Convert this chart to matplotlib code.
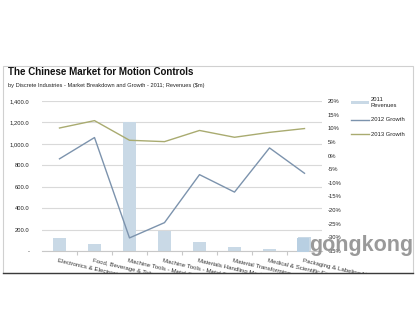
import matplotlib
matplotlib.use("Agg")
import matplotlib.pyplot as plt
from matplotlib.patches import Rectangle, Patch
from matplotlib.lines import Line2D
from matplotlib.ticker import FixedLocator, FuncFormatter

# Market breakdown by discrete industry
industries = [
    "Electronics & Electronic Assembly",
    "Food, Beverage & Tobacco",
    "Machine Tools - Metal Cutting",
    "Machine Tools - Metal Forming",
    "Materials Handling Machinery",
    "Material Transforming",
    "Medical & Scientific Equipment",
    "Packaging & Labeling Machinery",
]
revenue_2011 = [118, 65, 1200, 188, 86, 40, 21, 130]          # $m
growth_2012 = [-1.2, 6.6, -30.2, -24.6, -7.0, -13.4, 2.8, -6.5]  # %
growth_2013 = [10.1, 12.8, 5.6, 5.1, 9.2, 6.7, 8.5, 9.9]        # %

left_ticks = [0, 200, 400, 600, 800, 1000, 1200, 1400]
right_ticks = [20, 15, 10, 5, 0, -5, -10, -15, -20, -25, -30, -35]

bar_color = "#c9d9e6"
c2012 = "#7c93ad"
c2013 = "#a9ab70"
txt = "#222222"

plt.rcParams["font.family"] = ["Liberation Sans", "DejaVu Sans"]

fig = plt.figure(figsize=(4.15, 3.3), dpi=100)
ax = fig.add_axes([42 / 415, 1 - 251 / 330, 280 / 415, 150 / 330])
ax2 = ax.twinx()

x = list(range(len(industries)))
ax.bar(x, revenue_2011, width=0.38, color=bar_color, zorder=2)
ax.set_xlim(-0.5, len(industries) - 0.5)
ax.set_ylim(0, 1400)
ax.yaxis.set_major_locator(FixedLocator(left_ticks))
ax.yaxis.set_major_formatter(FuncFormatter(lambda v, p: "-" if v == 0 else f"{v:,.1f}"))
ax.grid(axis="y", color="#d9d9d9", linewidth=0.8, zorder=0)
ax.tick_params(axis="y", length=0, labelsize=4.2, labelcolor=txt, pad=9)
for s in ["top", "left", "right"]:
    ax.spines[s].set_visible(False)
ax.spines["bottom"].set_color("#c8c8c8")
ax.spines["bottom"].set_linewidth(0.8)

# category labels hang from the center of each slot
ax.set_xticks(x)
ax.set_xticklabels([])
ax.tick_params(axis="x", which="major", length=0)
ax.set_xticks([i + 0.5 for i in x[:-1]], minor=True)
ax.tick_params(axis="x", which="minor", length=3, color="#c8c8c8", width=0.8)
for i, name in zip(x, industries):
    ax.annotate(name, xy=(i, 0), xycoords=("data", "axes fraction"),
                xytext=(-1, -5), textcoords="offset points",
                ha="left", va="top", rotation=-13, rotation_mode="anchor",
                fontsize=4.4, color="#333333", annotation_clip=False)

ax2.plot(x, growth_2012, color=c2012, linewidth=1.0, zorder=3)
ax2.plot(x, growth_2013, color=c2013, linewidth=1.0, zorder=3)
ax2.set_ylim(-35, 20)
ax2.yaxis.set_major_locator(FixedLocator(right_ticks))
ax2.yaxis.set_major_formatter(FuncFormatter(lambda v, p: f"{v:.0f}%"))
ax2.tick_params(axis="y", length=0, labelsize=4.2, labelcolor=txt, pad=4)
for s in ax2.spines.values():
    s.set_visible(False)

fig.text(8 / 415, 1 - 72 / 330, "The Chinese Market for Motion Controls",
         family=["Liberation Sans Narrow", "Liberation Sans"], weight="bold",
         fontsize=7.0, color="#111111", va="center", ha="left")
fig.text(8 / 415, 1 - 86 / 330,
         "by Discrete Industries - Market Breakdown and Growth - 2011; Revenues ($m)",
         fontsize=4.1, color=txt, va="center", ha="left")

handles = [Patch(facecolor=bar_color, edgecolor="none"),
           Line2D([], [], color=c2012, linewidth=1.0),
           Line2D([], [], color=c2013, linewidth=1.0)]
fig.legend(handles, ["2011\nRevenues", "2012 Growth", "2013 Growth"],
           loc="upper left", bbox_to_anchor=(346 / 415, 1 - 92 / 330),
           frameon=False, fontsize=4.2, handlelength=3.0, handleheight=0.4,
           handletextpad=0.3, labelspacing=1.6, labelcolor=txt)

# watermark
fig.patches.append(Rectangle((297 / 415, 1 - 252 / 330), 12 / 415, 14 / 330,
                             transform=fig.transFigure, facecolor="#b8cfe2",
                             edgecolor="none", zorder=6))
fig.text(309 / 415, 1 - 245 / 330, "gongkong", fontsize=15.5, weight="bold",
         color="#8f8f8f", alpha=0.9, va="center", ha="left", zorder=6)

# chart frame; everything below it is blank
fig.patches.append(Rectangle((0, 0), 1, 1 - 273 / 330, transform=fig.transFigure,
                             facecolor="white", edgecolor="none", zorder=8))
fig.patches.append(Rectangle((3 / 415, 1 - 273 / 330), 410 / 415, 207 / 330,
                             transform=fig.transFigure, facecolor="none",
                             edgecolor="#d0d0d0", linewidth=0.8, zorder=9))
fig.add_artist(Line2D([3 / 415, 413 / 415], [1 - 273 / 330] * 2,
                      transform=fig.transFigure, color="#3a3a3a",
                      linewidth=1.0, zorder=10))

fig.savefig("out.png", dpi=100)
